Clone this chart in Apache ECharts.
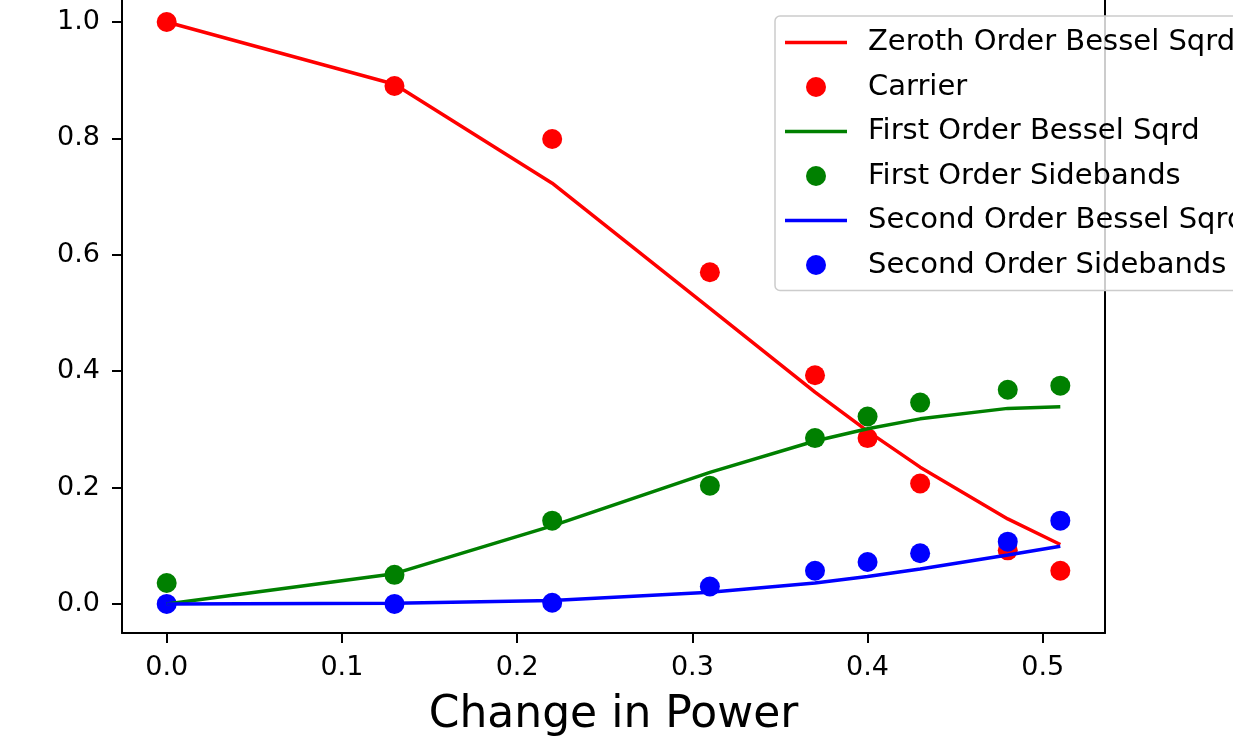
<!DOCTYPE html>
<html>
<head>
<meta charset="utf-8">
<script src="https://cdn.jsdelivr.net/npm/echarts@6/dist/echarts.min.js"></script>
<style>
	html, body { margin: 0; padding: 0; background: #fff; }
	#chart { width: 1233px; height: 739px; }
</style>
</head>
<body>
<div id="chart"></div>
<script>
// change in power (x) for every sample
const power = [0, 0.13, 0.22, 0.31, 0.37, 0.40, 0.43, 0.48, 0.51];

// fitted curves
const zerothBessel = [1.0, 0.893, 0.723, 0.508, 0.364, 0.297, 0.235, 0.146, 0.102];
const firstBessel = [0.0, 0.052, 0.134, 0.226, 0.280, 0.301, 0.318, 0.336, 0.339];
const secondBessel = [0.0, 0.001, 0.006, 0.020, 0.036, 0.047, 0.060, 0.084, 0.099];

// measured points
const carrier = [1.0, 0.890, 0.799, 0.570, 0.393, 0.285, 0.207, 0.092, 0.057];
const firstSidebands = [0.036, 0.050, 0.143, 0.203, 0.285, 0.322, 0.346, 0.368, 0.375];
const secondSidebands = [0.0, 0.0, 0.002, 0.030, 0.057, 0.072, 0.087, 0.107, 0.143];

const xTicks = [0, 0.1, 0.2, 0.3, 0.4, 0.5];
const yTicks = [0, 0.2, 0.4, 0.6, 0.8, 1.0];

const names = [
	"Zeroth Order Bessel Sqrd",
	"Carrier",
	"First Order Bessel Sqrd",
	"First Order Sidebands",
	"Second Order Bessel Sqrd",
	"Second Order Sidebands",
];

const font = "DejaVu Sans";
const pairs = (ys) => power.map((x, i) => [x, ys[i]]);
// plain stroke for the legend, no marker on it
const lineIcon = "path://M0,0L62,0L62,3.5L0,3.5Z";

const lineSeries = (name, ys, color) => ({
	name,
	type      : "line",
	symbol    : "none",
	data      : pairs(ys),
	lineStyle : { color, width: 3.5 },
	itemStyle : { color },
});

const dotSeries = (name, ys, color) => ({
	name,
	type       : "scatter",
	symbol     : "circle",
	symbolSize : 20,
	data       : pairs(ys),
	itemStyle  : { color, opacity: 1 },
});

const spine = { show: true, onZero: false, lineStyle: { color: "#000", width: 2 } };

const chart = echarts.init(document.getElementById("chart"), null, { renderer: "canvas" });

chart.setOption({
	animation : false,
	grid      : {
		left            : 122,
		right           : 128,
		top             : 0,
		bottom          : 106,
		outerBoundsMode : "none",
		containLabel    : false,
	},
	xAxis: {
		type         : "value",
		min          : -0.0255,
		max          : 0.5355,
		name         : "Change in Power",
		nameLocation : "middle",
		nameGap      : 61,
		nameTextStyle: {
			fontFamily : font,
			fontSize   : 44,
			color      : "#000",
		},
		axisLine  : spine,
		axisTick  : { show: true, customValues: xTicks, length: 10, lineStyle: { color: "#000", width: 2 } },
		axisLabel : {
			customValues : xTicks,
			margin       : 21,
			fontFamily   : font,
			fontSize     : 27,
			color        : "#000",
			formatter    : v => v.toFixed(1),
		},
		splitLine: { show: false },
	},
	yAxis: [
		{
			type      : "value",
			min       : -0.05,
			max       : 1.0378,
			axisLine  : spine,
			axisTick  : { show: true, customValues: yTicks, length: 10, lineStyle: { color: "#000", width: 2 } },
			axisLabel : {
				customValues : yTicks,
				margin       : 22,
				fontFamily   : font,
				fontSize     : 27,
				color        : "#000",
				formatter    : v => v.toFixed(1),
			},
			splitLine: { show: false },
		},
		{
			// right spine only
			type      : "value",
			position  : "right",
			min       : -0.05,
			max       : 1.0378,
			axisLine  : spine,
			axisTick  : { show: false },
			axisLabel : { show: false },
			splitLine : { show: false },
		},
	],
	legend: {
		data: [
			{ name: names[0], icon: lineIcon },
			{ name: names[1] },
			{ name: names[2], icon: lineIcon },
			{ name: names[3] },
			{ name: names[4], icon: lineIcon },
			{ name: names[5] },
		],
		orient          : "vertical",
		left            : 775,
		top             : 16,
		padding         : [12, 400, 11, 10],
		itemWidth       : 62,
		itemHeight      : 20,
		itemGap         : 15.5,
		backgroundColor : "rgba(255,255,255,0.8)",
		borderColor     : "#cccccc",
		borderWidth     : 1.5,
		borderRadius    : 5,
		textStyle       : {
			fontFamily : font,
			fontSize   : 29,
			color      : "#000",
			padding    : [0, 0, 0, 16],
		},
		selectedMode: false,
	},
	series: [
		lineSeries(names[0], zerothBessel, "#ff0000"),
		dotSeries(names[1], carrier, "#ff0000"),
		lineSeries(names[2], firstBessel, "#008000"),
		dotSeries(names[3], firstSidebands, "#008000"),
		lineSeries(names[4], secondBessel, "#0000ff"),
		dotSeries(names[5], secondSidebands, "#0000ff"),
	],
});
</script>
</body>
</html>
